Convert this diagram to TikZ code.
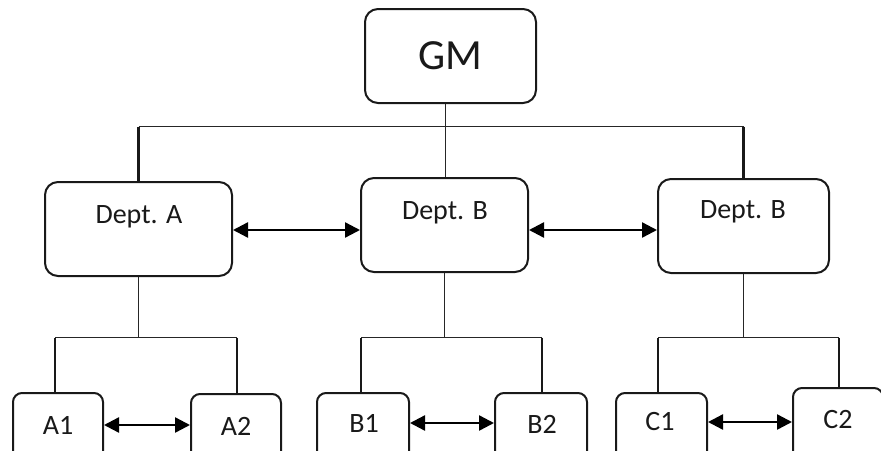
\documentclass[tikz,border=0pt]{standalone}
\usepackage{fontspec}
\setmainfont{Carlito}
\usetikzlibrary{arrows.meta}
\begin{document}
\begin{tikzpicture}[x=1pt,y=-1pt,
  box/.style={draw=black!90, line width=2pt, fill=white, rounded corners=13pt, inner sep=0pt},
  deptbox/.style={box, minimum width=187pt, minimum height=94pt},
  unitbox/.style={box, rounded corners=9pt, minimum width=90pt, minimum height=86pt},
  lbl/.style={inner sep=0pt, text=black!90, font=\fontsize{28}{30}\selectfont},
  thinline/.style={draw=black!85, line width=1.3pt},
  drop/.style={draw=black!90, line width=2.2pt},
  biarrow/.style={draw=black, line width=2.4pt, {Triangle[length=15pt,width=15pt]}-{Triangle[length=15pt,width=15pt]}}
]
\useasboundingbox (0,0) rectangle (881,450);
\clip (0,0) rectangle (881,450);
\fill[white] (0,0) rectangle (881,450);

% general manager
\node[box, minimum width=171pt, minimum height=94pt] (gm) at (450.5,56) {};
\node[lbl, font=\fontsize{43}{46}\selectfont] (gmt) at (450,56) {GM};

% departments
\node[deptbox] (dA) at (138.5,229) {};
\node[deptbox, minimum width=167pt] (dB) at (444.5,225) {};
\node[deptbox, minimum width=171pt] (dC) at (743.5,226) {};
\node[lbl] (dAt) at (139,217) {Dept. A};
\node[lbl] (dBt) at (445,213) {Dept. B};
\node[lbl] (dCt) at (743,212) {Dept. B};

% units
\node[unitbox] (a1) at (58,436) {};
\node[unitbox] (a2) at (236,437) {};
\node[unitbox, minimum width=92pt] (b1) at (363,436) {};
\node[unitbox, minimum width=92pt] (b2) at (541,436) {};
\node[unitbox, minimum width=91pt] (c1) at (661.5,436) {};
\node[unitbox] (c2) at (838,431) {};
\node[lbl] (a1t) at (58,425) {A1};
\node[lbl] (a2t) at (236,426) {A2};
\node[lbl] (b1t) at (364,423) {B1};
\node[lbl] (b2t) at (542,424) {B2};
\node[lbl] (c1t) at (660,422) {C1};
\node[lbl] (c2t) at (838,420) {C2};

% bus levels
\coordinate (tb) at (445,126.5);
\coordinate (lb) at (445,337.5);

% top level wiring
\draw[thinline] ([xshift=1pt]dB.north |- gm.south) -- ([xshift=1pt]dB.north);
\draw[thinline] (dA.north |- tb) -- (dC.north |- tb);
\draw[drop] (dA.north |- tb) -- (dA.north);
\draw[drop] (dC.north |- tb) -- (dC.north);

% lower level wiring
\draw[thinline] (dA.south) -- (dA.south |- lb);
\draw[thinline] (dB.south) -- (dB.south |- lb);
\draw[thinline] (dC.south) -- (dC.south |- lb);
\draw[thinline] ([xshift=-3pt]a1.north |- lb) -- ([xshift=1pt]a2.north |- lb);
\draw[thinline] ([xshift=-2pt]b1.north |- lb) -- ([xshift=1pt]b2.north |- lb);
\draw[thinline] ([xshift=-3.5pt]c1.north |- lb) -- ([xshift=1pt]c2.north |- lb);
\draw[drop] ([xshift=-3pt]a1.north |- lb) -- ([xshift=-3pt]a1.north);
\draw[drop] ([xshift=1pt]a2.north |- lb) -- ([xshift=1pt]a2.north);
\draw[drop] ([xshift=-2pt]b1.north |- lb) -- ([xshift=-2pt]b1.north);
\draw[drop] ([xshift=1pt]b2.north |- lb) -- ([xshift=1pt]b2.north);
\draw[drop] ([xshift=-3.5pt]c1.north |- lb) -- ([xshift=-3.5pt]c1.north);
\draw[drop] ([xshift=1pt]c2.north |- lb) -- ([xshift=1pt]c2.north);

% peer links
\draw[biarrow] ([yshift=-1pt]dA.east) -- ([yshift=-1pt]dA.east -| dB.west);
\draw[biarrow] ([yshift=-1pt]dA.east -| dB.east) -- ([yshift=-1pt]dA.east -| dC.west);
\draw[biarrow] (a1.east |- a1t) -- (a2.west |- a1t);
\draw[biarrow] (b1.east |- b1t) -- (b2.west |- b1t);
\draw[biarrow] (c1.east |- c1t) -- (c2.west |- c1t);
\end{tikzpicture}
\end{document}
